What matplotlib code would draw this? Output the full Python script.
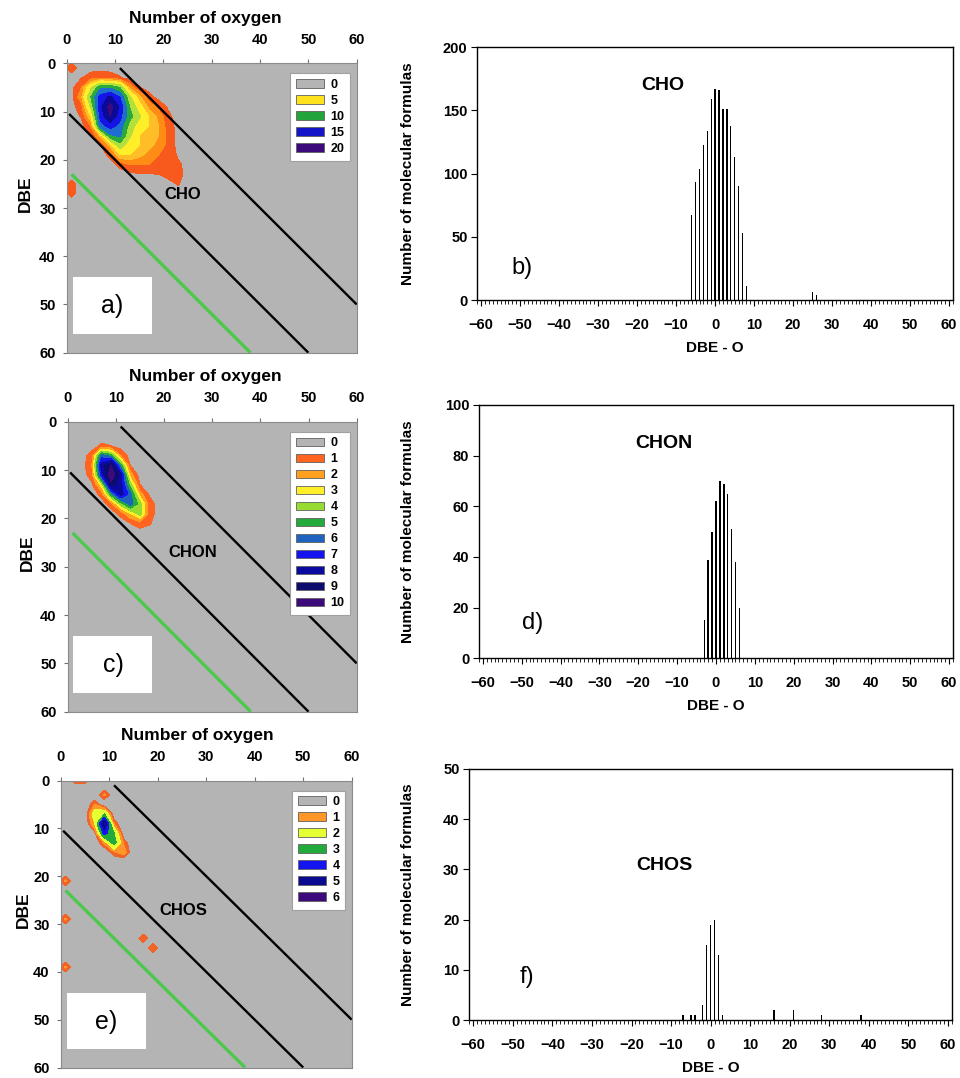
import numpy as np
import matplotlib.pyplot as plt
from matplotlib.patches import Patch, Rectangle
from matplotlib.ticker import MultipleLocator

plt.rcParams['font.family'] = ['Liberation Sans', 'DejaVu Sans']
plt.rcParams['font.weight'] = 'bold'

# ---- histogram data (DBE - O) ----
cho_x = [-6, -5, -4, -3, -2, -1, 0, 1, 2, 3, 4, 5, 6, 7, 8, 25, 26]
cho_n = [67, 93, 104, 123, 134, 159, 167, 166, 151, 151, 138, 113, 90, 53, 11, 6, 4]
chon_x = [-3, -2, -1, 0, 1, 2, 3, 4, 5, 6]
chon_n = [15, 39, 50, 62, 70, 69, 65, 51, 38, 20]
chos_x = [-7, -5, -4, -2, -1, 0, 1, 2, 3, 16, 21, 28, 38]
chos_n = [1, 1, 1, 3, 15, 19, 20, 13, 1, 2, 2, 1, 1]

# ---- formula counts over (O, DBE), 2-unit grid of odd values ----
# CHO block: rows DBE 1..27, cols O 1..25
cho_grid = [
    [1.0, 0, 0, 0, 0, 0, 0, 0, 0, 0, 0, 0, 0],
    [0, 0.4, 1.2, 1.6, 1.2, 0.6, 0, 0, 0, 0, 0, 0, 0],
    [0, 2, 7, 12, 12, 10, 3, 0.6, 0, 0, 0, 0, 0],
    [0, 3, 10, 16, 18, 15, 8, 4, 1.0, 0, 0, 0, 0],
    [0, 1.2, 8, 17, 21, 17, 10, 6, 3, 1.5, 0.3, 0, 0],
    [0, 0.6, 5, 16, 20, 16, 11, 8, 5, 3, 0.8, 0, 0],
    [0, 0, 2, 14, 16, 14, 9, 6, 5, 3.5, 1.2, 0, 0],
    [0, 0, 0.3, 4, 12, 13, 8, 5, 5, 3.5, 1.5, 0, 0],
    [0, 0, 0, 0.3, 4, 9, 6, 5, 4, 3, 1.5, 0, 0],
    [0, 0, 0, 0, 0.8, 5, 5, 4, 3, 2, 1.5, 0.3, 0],
    [0, 0, 0, 0, 0, 0.8, 2, 2, 2, 1.5, 1.5, 0.8, 0],
    [0, 0, 0, 0, 0, 0, 0, 0.4, 0.4, 0.5, 1, 1, 0],
    [0.8, 0, 0, 0, 0, 0, 0, 0, 0, 0, 0, 0.6, 0],
    [0.8, 0, 0, 0, 0, 0, 0, 0, 0, 0, 0, 0, 0],
]
cho_origin = (1, 1)
# CHON block: rows DBE 5..21, cols O 5..17
chon_grid = [
    [0, 0.7, 0.5, 0, 0, 0, 0],
    [1.0, 6, 5, 1.5, 0, 0, 0],
    [1.5, 8, 9.5, 5, 0.5, 0, 0],
    [1.0, 7, 10.5, 8, 2, 0, 0],
    [0.3, 3, 9, 8, 4, 0.5, 0],
    [0, 0.8, 5, 8, 6, 2, 0.3],
    [0, 0, 1, 4, 6, 4, 1],
    [0, 0, 0, 0.8, 2.5, 4, 1.0],
    [0, 0, 0, 0, 0.5, 1.0, 0.6],
]
chon_origin = (5, 5)
# CHOS block: rows DBE 3..15, cols O 5..13, plus isolated formulas
chos_grid = [
    [0, 0, 0, 0, 0],
    [0, 0.9, 0, 0, 0],
    [0, 2, 2.5, 0, 0],
    [0, 1.5, 5.6, 0.8, 0],
    [0, 0.3, 4, 2.5, 0],
    [0, 0, 1, 3, 0.8],
    [0, 0, 0, 0.8, 1.2],
]
chos_origin = (5, 3)
chos_dots_o = [3, 5, 9, 1, 1, 1, 17, 19]
chos_dots_dbe = [-1, -1, 3, 21, 29, 39, 33, 35]
chos_dots_n = [2.5, 2.5, 1, 1, 1, 1, 0.9, 0.9]

o_nodes = np.arange(-1, 62, 2)
dbe_nodes = np.arange(-1, 62, 2)


def build(block, origin, dots_o=(), dots_dbe=(), dots_n=()):
    z = np.zeros((len(dbe_nodes), len(o_nodes)))
    b = np.array(block, dtype=float)
    j0, i0 = (origin[0] + 1) // 2, (origin[1] + 1) // 2
    z[i0:i0 + b.shape[0], j0:j0 + b.shape[1]] = b
    for o, d, n in zip(dots_o, dots_dbe, dots_n):
        z[(d + 1) // 2, (o + 1) // 2] = n
    return z


# guide lines DBE = O + offset
guide_off = [10, -10, 22]
guide_o = [(0.5, 50), (11, 60), (1, 38)]
guide_col = ['black', 'black', '#4cc84c']

gray = '#b4b4b4'
cho_levels = [0.5, 2, 3.5, 5, 7.5, 10, 12.5, 15, 17.5, 20, 100]
cho_colors = ['#f85a1e', '#ff8c14', '#ffbe28', '#ffee28', '#b4e03c', '#28aa3c',
              '#1e6ed2', '#1414e6', '#0a0a96', '#3c0a7a']
cho_leg = ['0', '5', '10', '15', '20']
cho_leg_col = [gray, '#ffe21e', '#22a33c', '#1414c8', '#3c0a7a']

chon_levels = [0.5, 1.5, 2.5, 3.5, 4.5, 5.5, 6.5, 7.5, 8.5, 9.5, 100]
chon_colors = ['#ff6420', '#ffa01e', '#ffee28', '#96dc32', '#22aa3c', '#1e64be',
               '#1414f0', '#0a0aa0', '#0c0c6e', '#3c0a7a']
chon_leg = [str(i) for i in range(11)]
chon_leg_col = [gray] + chon_colors

chos_levels = [0.5, 0.9, 1.5, 2.5, 3.5, 4.5, 5.5, 100]
chos_colors = ['#f06428', '#ff9628', '#e6ff32', '#22aa3c', '#1414f0', '#0a0a90', '#3c0a7a']
chos_leg = [str(i) for i in range(7)]
chos_leg_col = [gray] + chos_colors[1:]

W, H = 960, 1078
fig = plt.figure(figsize=(W / 100, H / 100), dpi=100)


def add_ax(l, r, t, b):
    return fig.add_axes([l / W, 1 - b / H, (r - l) / W, (b - t) / H])


def left_panel(box, z, levels, colors, leg, leg_col, name, tag, name_xy, title_x, dbe_x):
    l, r, t, b = box
    ax = add_ax(l, r, t, b)
    ax.set_facecolor(gray)
    ax.contourf(o_nodes, dbe_nodes, z, levels=levels, colors=colors)
    for off, (o0, o1), c in zip(guide_off, guide_o, guide_col):
        ax.plot([o0, o1], [o0 + off, o1 + off], color=c,
                lw=2.4 if c != 'black' else 1.7, solid_capstyle='butt')
    ax.set_xlim(0, 60)
    ax.set_ylim(60, 0)
    ax.xaxis.tick_top()
    ax.set_xticks(range(0, 61, 10))
    ax.set_yticks(range(0, 61, 10))
    ax.tick_params(axis='x', labelsize=10.5, length=3, pad=9, color='#707070')
    ax.tick_params(axis='y', labelsize=10.5, length=3, pad=5, color='#707070')
    for s in ax.spines.values():
        s.set_color('#8a8a8a')
    fig.text(title_x / W, 1 - (t - 45) / H, 'Number of oxygen', fontsize=12.5,
             ha='center', va='center')
    fig.text(dbe_x / W, 1 - ((t + b) / 2 - 14) / H, 'DBE', fontsize=12.5,
             rotation=90, ha='center', va='center')
    handles = [Patch(facecolor=c, edgecolor='#606060', lw=0.6) for c in leg_col]
    lg = ax.legend(handles, leg, loc='upper right', bbox_to_anchor=(0.978, 0.965),
                   borderaxespad=0, fontsize=9, handlelength=2.3, handleheight=0.7,
                   labelspacing=0.32, handletextpad=0.5, borderpad=0.45,
                   fancybox=False, framealpha=1, edgecolor='#a0a0a0')
    lg.get_frame().set_linewidth(0.8)
    ax.add_patch(Rectangle((1.2, 44.4), 16.4, 11.8, facecolor='white',
                           edgecolor='none', zorder=3))
    ax.text(9.4, 50.4, tag, fontsize=18, fontweight='normal', ha='center',
            va='center', zorder=4)
    ax.text(name_xy[0], name_xy[1], name, fontsize=12, ha='center', va='center')
    return ax


def right_panel(box, x, n, ymax, ystep, name, tag, name_xy, tag_xy):
    l, r, t, b = box
    ax = add_ax(l, r, t, b)
    ax.bar(x, n, width=0.38, color='black')
    ax.set_xlim(-61, 61)
    ax.set_ylim(0, ymax)
    ax.set_xticks(range(-60, 61, 10))
    ax.xaxis.set_minor_locator(MultipleLocator(1))
    ax.set_yticks(range(0, ymax + 1, ystep))
    ax.tick_params(axis='x', which='major', labelsize=10.5, length=4, pad=9)
    ax.tick_params(axis='x', which='minor', length=3)
    ax.tick_params(axis='y', labelsize=10.5, length=4, pad=3)
    for s in ax.spines.values():
        s.set_linewidth(1.0)
    ax.text(0.5, -0.19, 'DBE - O', transform=ax.transAxes, fontsize=11,
            ha='center', va='center')
    fig.text(408 / W, 1 - (t + b) / 2 / H, 'Number of molecular formulas',
             fontsize=11, rotation=90, ha='center', va='center')
    ax.text(name_xy[0], name_xy[1], name, transform=ax.transAxes, fontsize=14,
            ha='center', va='center')
    ax.text(tag_xy[0], tag_xy[1], tag, transform=ax.transAxes, fontsize=17,
            fontweight='normal', ha='center', va='center')
    return ax


left_panel((66.7, 356.7, 63.3, 352.7), build(cho_grid, cho_origin), cho_levels,
           cho_colors, cho_leg, cho_leg_col, 'CHO', 'a)', (24, 27.1), 205, 25)
left_panel((67.7, 356.7, 421.7, 711.7), build(chon_grid, chon_origin), chon_levels,
           chon_colors, chon_leg, chon_leg_col, 'CHON', 'c)', (26, 27.1), 205, 27)
left_panel((60.7, 351.7, 780.5, 1067.5),
           build(chos_grid, chos_origin, chos_dots_o, chos_dots_dbe, chos_dots_n),
           chos_levels, chos_colors, chos_leg, chos_leg_col, 'CHOS', 'e)',
           (25.3, 27.2), 197, 23)

right_panel((477.3, 953, 47.3, 300), cho_x, cho_n, 200, 50, 'CHO', 'b)',
            (0.39, 0.847), (0.095, 0.125))
right_panel((479, 953, 405, 658.3), chon_x, chon_n, 100, 20, 'CHON', 'd)',
            (0.391, 0.849), (0.114, 0.138))
right_panel((469.3, 952, 769, 1020), chos_x, chos_n, 50, 10, 'CHOS', 'f)',
            (0.404, 0.615), (0.12, 0.173))

fig.savefig('out.png', dpi=100)
